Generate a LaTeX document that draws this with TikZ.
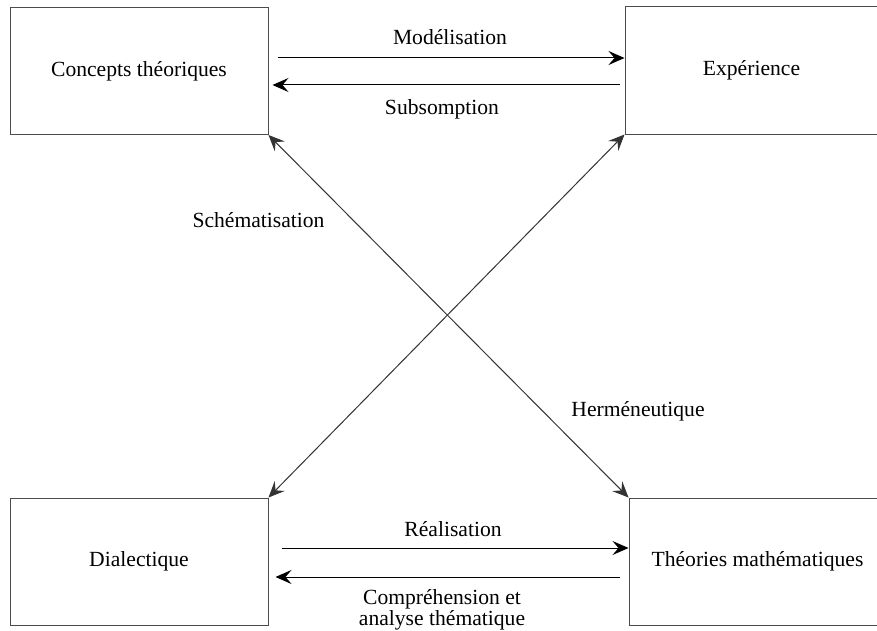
\documentclass[tikz,border=0pt]{standalone}
\usepackage{fontspec}
\setmainfont{Liberation Serif}
\usetikzlibrary{arrows.meta}

\tikzset{
concept/.style={draw=black!70,line width=0.5pt,rectangle,minimum width=129pt,minimum height=63.5pt,inner sep=0pt},
flow/.style={line width=0.5pt,-{Stealth[length=8pt,width=7pt,inset=3pt]}},
twoway/.style={line width=0.5pt,black!80,{Stealth[length=8pt,width=7pt,inset=3pt]}-{Stealth[length=8pt,width=7pt,inset=3pt]}}}

\begin{document}
\begin{tikzpicture}
  [x=0.5pt,y=-0.5pt,
   every node/.style={font=\fontsize{10.8}{10.8}\selectfont,inner sep=0pt}]
  \useasboundingbox (0,0) rectangle (877,631);
  \node[concept] (ct) at (139,71) {Concepts théoriques};
  \node[concept,minimum width=126.5pt] (exp) at (751.5,70.5) {Expérience};
  \node[concept] (dia) at (139,561.5) {Dialectique};
  \node[concept,minimum width=128.5pt] (tm) at (757.5,561.5) {Théories mathématiques};
  % top pair
  \draw[flow] ([xshift=4.5pt,yshift=6.5pt]ct.east) -- ([yshift=6.25pt]exp.west);
  \draw[flow] ([xshift=-2.5pt,yshift=-7.25pt]exp.west) -- ([xshift=2pt,yshift=-7pt]ct.east);
  \node (model) at (450,37) {Modélisation};
  \node (subs) at (442,109) {Subsomption};
  % bottom pair
  \draw[flow] ([xshift=6.5pt,yshift=6.75pt]dia.east) -- ([yshift=6.75pt]tm.west);
  \draw[flow] ([xshift=-4.5pt,yshift=-7.75pt]tm.west) -- ([xshift=3.5pt,yshift=-7.75pt]dia.east);
  \node (real) at (453,529) {Réalisation};
  \node[align=center] (compr) at (442,610) {Compréhension et\\analyse thématique};
  % crossing
  \draw[twoway] (ct.south east) -- (tm.north west);
  \draw[twoway] (dia.north east) -- (exp.south west);
  \node (schem) at (258.5,220) {Schématisation};
  \node (herm) at (638,411) {Herméneutique};
\end{tikzpicture}
\end{document}
